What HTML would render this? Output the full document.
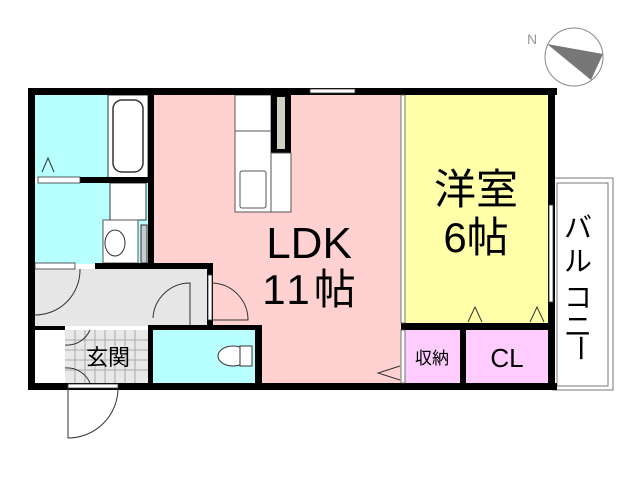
<!DOCTYPE html>
<html><head><meta charset="utf-8"><style>
body{margin:0;background:#fff}
svg{display:block}
text{font-family:"Liberation Sans","Noto Sans CJK JP",sans-serif}
</style></head><body>
<svg width="640" height="480" viewBox="0 0 640 480" xmlns="http://www.w3.org/2000/svg">
<circle cx="574" cy="57" r="29" fill="#fff" stroke="#888" stroke-width="1"/>
<polygon points="547,44 603,54 591,80" fill="#777"/>
<text x="527" y="44" font-size="14" fill="#999">N</text>
<rect x="553" y="178" width="60" height="212" fill="#fff" stroke="#777" stroke-width="1"/>
<rect x="557" y="183" width="51" height="203" fill="none" stroke="#777" stroke-width="1"/>
<g font-size="28" text-anchor="middle">
<text x="578" y="237">バ</text>
<text x="578" y="271">ル</text>
<text x="578" y="307">コ</text>
<text x="578" y="336">ニ</text>
<text x="578" y="348" transform="rotate(90 578 348)" dominant-baseline="middle">ー</text>
</g>
<rect x="154" y="95" width="247" height="288" fill="#ffd1d1"/>
<rect x="405" y="95" width="144" height="228" fill="#ffffaa"/>
<rect x="405" y="330" width="55" height="53" fill="#ffccff"/>
<rect x="466" y="330" width="83" height="53" fill="#ffccff"/>
<rect x="35" y="95" width="113" height="83" fill="#b8ffff"/>
<rect x="35" y="183" width="113" height="81" fill="#b8ffff"/>
<rect x="35" y="269" width="175" height="57" fill="#e6e6e6"/>
<rect x="153" y="330" width="102" height="53" fill="#b8ffff"/>
<rect x="35" y="330" width="30" height="53" fill="#fff"/>
<rect x="65" y="330" width="83" height="53" fill="#e8e8e8"/>
<g stroke="#aaa" stroke-width="1">
<line x1="75" y1="330" x2="75" y2="383"/><line x1="85" y1="330" x2="85" y2="383"/><line x1="95" y1="330" x2="95" y2="383"/><line x1="105" y1="330" x2="105" y2="383"/><line x1="115" y1="330" x2="115" y2="383"/><line x1="125" y1="330" x2="125" y2="383"/><line x1="135" y1="330" x2="135" y2="383"/>
<line x1="65" y1="340" x2="148" y2="340"/><line x1="65" y1="350" x2="148" y2="350"/><line x1="65" y1="360" x2="148" y2="360"/><line x1="65" y1="370" x2="148" y2="370"/>
</g>
<rect x="108" y="95" width="40" height="83" fill="#fff" stroke="#333"/>
<rect x="113" y="100" width="30" height="72" rx="9" fill="#fff" stroke="#333" stroke-width="1.5"/>
<polyline points="42,172 48,158 54,172" fill="none" stroke="#333"/>
<rect x="110" y="183" width="36" height="37" fill="#fff" stroke="#333"/>
<rect x="103" y="220" width="35" height="43" fill="#fff" stroke="#555"/>
<ellipse cx="115" cy="243" rx="10" ry="13" fill="#fff" stroke="#333"/>
<rect x="141" y="225" width="6" height="38" fill="#ccc" stroke="#333"/>
<rect x="235" y="95" width="36" height="117" fill="#fff" stroke="#555"/>
<line x1="235" y1="131" x2="271" y2="131" stroke="#555"/>
<rect x="240" y="171" width="26" height="37" rx="2" fill="#fff" stroke="#555"/>
<rect x="271" y="95" width="20" height="58" fill="#000"/>
<rect x="277" y="97" width="8" height="52" fill="#d0d0c0"/>
<rect x="271" y="153" width="20" height="59" fill="#fff" stroke="#555"/>
<ellipse cx="233" cy="356" rx="15" ry="10" fill="#fff" stroke="#333"/>
<rect x="240" y="346" width="12" height="20" fill="#fff" stroke="#333"/>
<rect x="256" y="330" width="5" height="53" fill="#ccc"/>
<g fill="#000">
<rect x="28" y="88" width="529" height="7"/>
<rect x="28" y="88" width="7" height="302"/>
<rect x="28" y="383" width="529" height="7"/>
<rect x="548" y="88" width="7" height="302"/>
<rect x="148" y="95" width="6" height="174"/>
<rect x="80" y="177" width="73" height="6"/>
<rect x="95" y="263" width="118" height="6"/>
<rect x="207" y="263" width="6" height="63"/>
<rect x="148" y="325" width="114" height="5"/>
<rect x="148" y="325" width="5" height="58"/>
<rect x="255" y="325" width="7" height="58"/>
<rect x="35" y="326" width="30" height="4"/>
<rect x="401" y="323" width="154" height="7"/>
<rect x="460" y="323" width="6" height="60"/>
</g>
<rect x="35" y="263" width="40" height="6" fill="#fff" stroke="#333" stroke-width="0.8"/>
<rect x="38" y="177" width="42" height="6" fill="#fff" stroke="#333" stroke-width="0.8"/>
<rect x="310" y="89" width="45" height="4" fill="#fff" stroke="#333" stroke-width="0.8"/>
<rect x="549" y="205" width="4" height="97" fill="#fff" stroke="#333" stroke-width="0.8"/>
<rect x="208" y="275" width="4" height="45" fill="#fff" stroke="#333" stroke-width="0.8"/>
<rect x="401" y="95" width="4" height="228" fill="#fff" stroke="#555" stroke-width="0.8"/>
<rect x="401" y="330" width="4" height="53" fill="#fff" stroke="#555" stroke-width="0.8"/>
<rect x="68" y="384" width="50" height="4" fill="#fff" stroke="#333" stroke-width="0.8"/>
<g fill="none" stroke="#333" stroke-width="1">
<path d="M35,315 A45,45 0 0 0 80,269"/>
<path d="M153,318 A37,37 0 0 1 190,283 L190,325"/>
<path d="M212,283 A37,37 0 0 1 248,320 L212,320"/>
<path d="M68,388 L68,438 A50,50 0 0 0 118,388"/>
<path d="M65,345 A25,25 0 0 0 90,330"/>
<path d="M65,368 A25,25 0 0 1 90,383"/>
<polyline points="400,366 378,373 400,380"/>
<polyline points="468,322 475,307 482,322"/>
<polyline points="530,322 537,307 544,322"/>
</g>
<text x="309" y="258" font-size="44" text-anchor="middle">LDK</text>
<text x="311" y="304" font-size="42" text-anchor="middle" letter-spacing="4">11帖</text>
<text x="476" y="204" font-size="42" text-anchor="middle">洋室</text>
<text x="476" y="252" font-size="42" text-anchor="middle">6帖</text>
<text x="432" y="364" font-size="17" text-anchor="middle">収納</text>
<text x="507" y="367" font-size="26" text-anchor="middle">CL</text>
<text x="108" y="365" font-size="22" text-anchor="middle">玄関</text>
</svg>
</body></html>
